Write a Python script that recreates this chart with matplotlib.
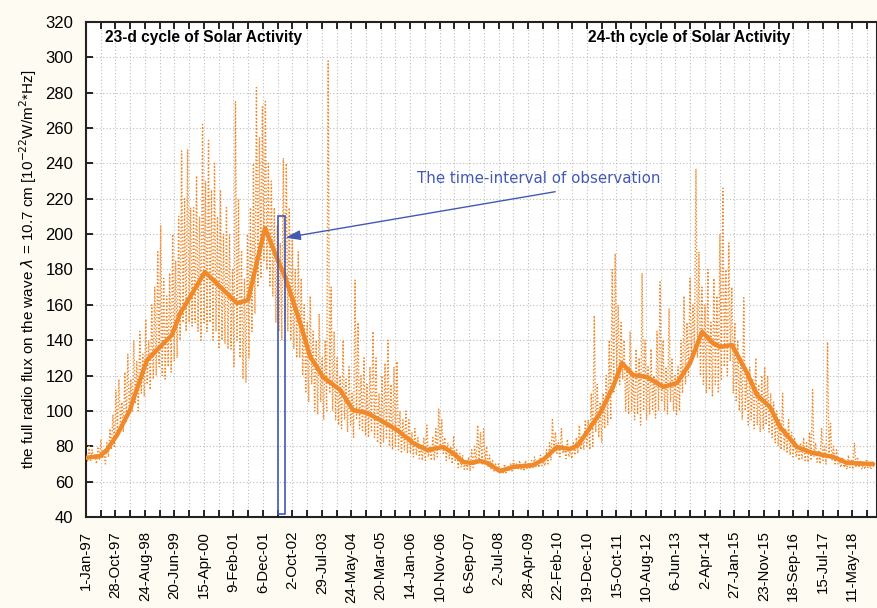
"""Daily F10.7 solar radio flux 1997-2018 with smoothed curve (cycles 23 and 24)."""

import datetime as dt

import matplotlib.pyplot as plt
import numpy as np
from matplotlib.patches import Rectangle
from matplotlib.ticker import MultipleLocator

plt.rcParams["font.family"] = ["Liberation Sans", "DejaVu Sans"]

OUT = "out.png"

BG = "#fdfbf2"
ORANGE = "#f0892a"
BLUE = "#4259b3"
GRID = "#bdbdbd"

START = dt.date(1997, 1, 1)

# Daily flux, read as alternating highs/lows, 24 samples per year (1997..2018)
DAILY_YEARS = list(range(1997, 2019))
DAILY_FLUX = [
    [76, 71, 80, 72, 78, 73, 75, 70, 79, 72, 84, 73, 77, 70, 82, 74, 90, 78, 98, 80, 112, 88, 118, 92],
    [105, 88, 122, 94, 132, 98, 118, 100, 140, 104, 128, 100, 145, 110, 132, 108, 152, 115, 140, 112, 160, 118, 170, 120],
    [190, 125, 205, 120, 175, 118, 165, 125, 178, 122, 200, 128, 185, 130, 210, 140, 247, 150, 220, 145, 248, 150, 215, 148],
    [215, 150, 233, 145, 210, 140, 262, 150, 230, 145, 253, 150, 225, 140, 240, 145, 210, 135, 225, 140, 200, 138, 215, 135],
    [200, 135, 180, 125, 275, 140, 220, 130, 190, 118, 175, 116, 200, 130, 215, 145, 240, 155, 283, 170, 255, 175, 272, 185],
    [275, 180, 240, 170, 230, 165, 215, 150, 205, 145, 195, 140, 243, 150, 240, 145, 215, 140, 200, 135, 180, 130, 190, 130],
    [175, 120, 160, 110, 150, 105, 165, 115, 145, 100, 140, 98, 155, 105, 130, 95, 140, 100, 298, 110, 170, 100, 145, 95],
    [130, 92, 120, 90, 140, 95, 118, 88, 125, 92, 110, 85, 174, 95, 150, 90, 120, 88, 130, 86, 115, 85, 125, 88],
    [145, 85, 130, 82, 110, 80, 120, 82, 127, 84, 140, 80, 115, 78, 125, 80, 128, 78, 100, 76, 95, 78, 100, 76],
    [95, 76, 88, 74, 90, 75, 85, 73, 80, 72, 85, 72, 92, 74, 80, 72, 85, 72, 90, 74, 101, 78, 95, 76],
    [85, 72, 82, 73, 80, 70, 86, 72, 78, 68, 76, 68, 75, 67, 72, 67, 74, 66, 78, 68, 80, 70, 92, 72],
    [88, 70, 90, 71, 80, 68, 75, 67, 72, 66, 70, 66, 70, 65, 68, 65, 70, 65, 68, 66, 70, 66, 72, 67],
    [70, 67, 72, 67, 70, 66, 72, 67, 70, 67, 72, 68, 74, 68, 72, 68, 75, 69, 72, 69, 78, 70, 82, 72],
    [95, 78, 88, 76, 82, 74, 90, 76, 80, 73, 84, 74, 78, 73, 82, 75, 85, 76, 92, 78, 86, 78, 95, 80],
    [95, 78, 110, 80, 154, 88, 115, 85, 105, 82, 110, 90, 120, 92, 140, 95, 180, 110, 189, 120, 160, 115, 150, 118],
    [140, 100, 125, 98, 145, 100, 120, 95, 135, 98, 130, 92, 178, 100, 140, 95, 125, 98, 135, 100, 120, 96, 145, 100],
    [173, 105, 140, 100, 125, 98, 158, 105, 130, 100, 120, 98, 125, 100, 140, 110, 165, 115, 150, 120, 175, 130, 160, 135],
    [237, 130, 190, 120, 170, 115, 160, 110, 180, 112, 150, 108, 175, 115, 165, 110, 200, 118, 226, 125, 180, 120, 195, 128],
    [170, 110, 150, 105, 140, 100, 130, 95, 164, 100, 120, 92, 125, 95, 118, 90, 130, 92, 115, 88, 120, 90, 125, 92],
    [120, 88, 110, 85, 105, 82, 100, 80, 95, 78, 110, 78, 90, 76, 95, 75, 88, 74, 85, 74, 80, 72, 82, 73],
    [85, 72, 82, 71, 88, 72, 112, 74, 82, 71, 78, 70, 90, 72, 80, 70, 139, 75, 93, 72, 80, 70, 78, 70],
    [72, 68, 74, 68, 70, 67, 75, 68, 72, 67, 82, 68, 74, 68, 72, 67, 70, 67, 72, 68, 70, 67, 71, 68],
]

# Smoothed flux: day offset from 1-Jan-97 and value
SMOOTH_DAYS = [0, 143, 214, 316, 448, 478, 621, 875, 957, 1211, 1537, 1649, 1822, 1955,
               2026, 2179, 2280, 2413, 2586, 2718, 2861, 2993, 3166, 3329, 3471, 3634,
               3736, 3838, 3929, 4011, 4082, 4215, 4347, 4550, 4652, 4795, 4927, 5009,
               5233, 5365, 5456, 5568, 5711, 5874, 6016, 6149, 6271, 6383, 6454, 6576,
               6729, 6831, 6963, 7065, 7238, 7401, 7604, 7747, 8012]
SMOOTH_FLUX = [73.5, 74.5, 78, 86.4, 100.5, 106, 128.8, 143, 155, 178.6, 161, 162.7, 203.5, 185,
               176, 150, 131, 119.2, 111.9, 100.5, 98.8, 94.9, 89.2, 81.9, 77.9, 79.6,
               76.2, 71.1, 70.6, 71.7, 70.6, 66.0, 68.3, 69.4, 72.3, 79.6, 78.5, 80.7,
               98.8, 113.6, 127.1, 120.3, 119.2, 113.6, 115.8, 127.1, 144.7, 138.4, 136.2, 137.3,
               121.5, 109.0, 102.2, 90.9, 79.6, 76.2, 74.0, 70.6, 70.0]

TICK_LABELS = ["1-Jan-97", "28-Oct-97", "24-Aug-98", "20-Jun-99", "15-Apr-00", "9-Feb-01",
               "6-Dec-01", "2-Oct-02", "29-Jul-03", "24-May-04", "20-Mar-05", "14-Jan-06",
               "10-Nov-06", "6-Sep-07", "2-Jul-08", "28-Apr-09", "22-Feb-10", "19-Dec-10",
               "15-Oct-11", "10-Aug-12", "6-Jun-13", "2-Apr-14", "27-Jan-15", "23-Nov-15",
               "18-Sep-16", "15-Jul-17", "11-May-18"]

OBS_START = dt.date(2002, 5, 10)
OBS_END = dt.date(2002, 7, 20)
OBS_LOW, OBS_HIGH = 41.5, 210


def run() -> None:
    flux = np.concatenate([np.asarray(v, dtype=float) for v in DAILY_FLUX])
    days = []
    for y, vals in zip(DAILY_YEARS, DAILY_FLUX):
        y0 = (dt.date(y, 1, 1) - START).days
        days += [y0 + i * 365.25 / len(vals) for i in range(len(vals))]
    days = np.array(days)

    fig = plt.figure(figsize=(8.78, 6.08), dpi=100)
    fig.patch.set_facecolor(BG)
    ax = fig.add_axes([86 / 878, 1 - 517 / 608, 791 / 878, 495 / 608])
    ax.set_facecolor("white")

    ax.plot(days, flux, color=ORANGE, lw=1.0, ls=(0, (1, 1.5)), zorder=2)
    ax.plot(SMOOTH_DAYS, SMOOTH_FLUX, color=ORANGE, lw=3.2, zorder=3,
            solid_capstyle="round", solid_joinstyle="round")

    d0 = (OBS_START - START).days
    d1 = (OBS_END - START).days
    ax.add_patch(Rectangle((d0, OBS_LOW), d1 - d0, OBS_HIGH - OBS_LOW,
                           fill=False, edgecolor=BLUE, lw=1.2, zorder=4))
    ax.annotate("", xy=(d1 + 5, 198), xytext=(4776, 224),
                arrowprops=dict(arrowstyle="-|>,head_length=0.9,head_width=0.3",
                                color=BLUE, lw=1.0, shrinkA=0, shrinkB=0), zorder=5)
    ax.text(4611, 231.5, "The time-interval of observation", color=BLUE,
            fontsize=10.8, ha="center", va="center", family="DejaVu Sans")

    ax.text(0.024, 0.968, "23-d cycle of Solar Activity", transform=ax.transAxes,
            fontsize=11.2, fontweight="bold", ha="left", va="center")
    ax.text(0.635, 0.968, "24-th cycle of Solar Activity", transform=ax.transAxes,
            fontsize=11.2, fontweight="bold", ha="left", va="center")

    ax.set_xlim(0, 8052)
    ax.set_ylim(40, 320)
    ax.xaxis.set_major_locator(MultipleLocator(300))
    ax.xaxis.set_minor_locator(MultipleLocator(150))
    ax.set_xticks([300 * i for i in range(len(TICK_LABELS))])
    ax.set_xticklabels(TICK_LABELS, rotation=90, fontsize=10.8)
    ax.yaxis.set_major_locator(MultipleLocator(20))
    ax.tick_params(axis="y", labelsize=12, direction="in", length=5, pad=9, width=1.2)
    ax.tick_params(axis="x", which="both", direction="in", length=5, pad=10, width=1.2,
                   top=True)

    ax.grid(True, which="both", axis="x", color=GRID, ls=(0, (1, 2)), lw=0.8)
    ax.grid(True, which="major", axis="y", color=GRID, ls=(0, (1, 2)), lw=0.8)
    ax.set_axisbelow(True)
    for s in ax.spines.values():
        s.set_linewidth(1.5)
        s.set_color("#222222")

    ax.set_ylabel(r"the full radio flux on the wave $\lambda$ = 10.7 cm "
                  r"[10$^{-22}$W/m$^{2}$*Hz]", fontsize=11, labelpad=5)

    fig.savefig(OUT, dpi=100, facecolor=BG)
    print(f"Wrote {OUT}")


if __name__ == "__main__":
    run()
